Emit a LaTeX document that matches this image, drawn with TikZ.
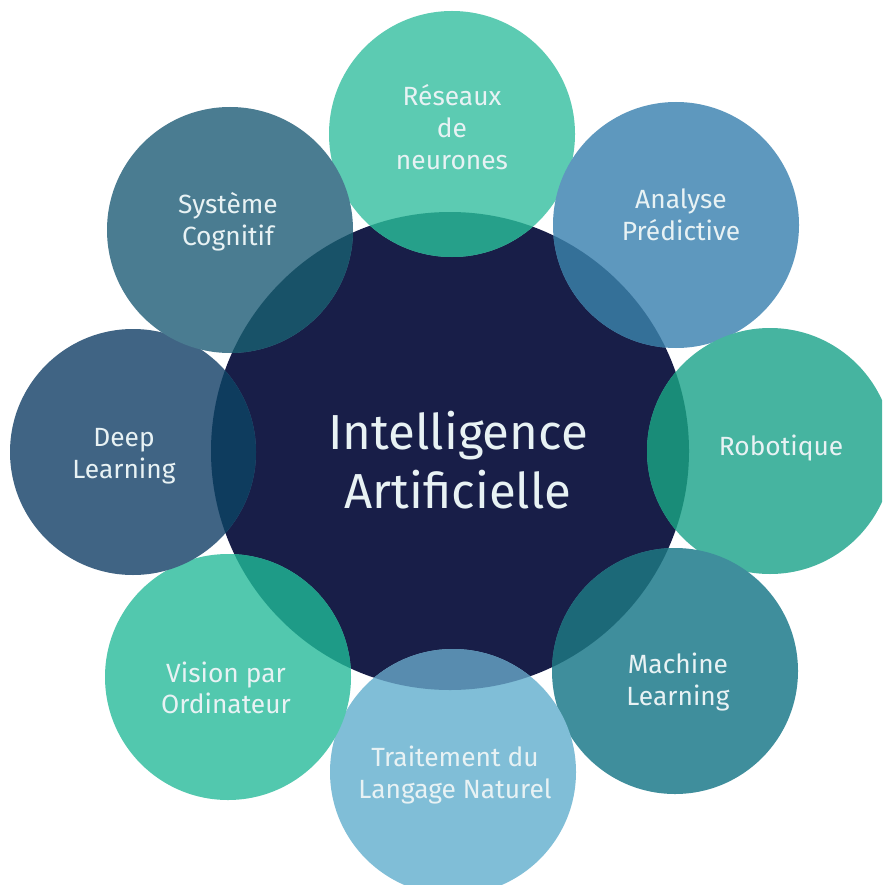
\documentclass[tikz,border=0pt]{standalone}
\usepackage{fontspec}
\setmainfont{Fira Sans}
\definecolor{navy}{RGB}{24,30,72}
\definecolor{labeltext}{RGB}{232,242,244}
\definecolor{cReseaux}{RGB}{92,203,178}
\definecolor{oReseaux}{RGB}{38,160,138}
\definecolor{cAnalyse}{RGB}{94,152,190}
\definecolor{oAnalyse}{RGB}{52,112,152}
\definecolor{cRobot}{RGB}{70,180,160}
\definecolor{oRobot}{RGB}{25,140,120}
\definecolor{cML}{RGB}{63,142,156}
\definecolor{oML}{RGB}{28,105,120}
\definecolor{cTraite}{RGB}{128,190,215}
\definecolor{oTraite}{RGB}{88,140,175}
\definecolor{cVision}{RGB}{82,200,174}
\definecolor{oVision}{RGB}{30,155,135}
\definecolor{cDeep}{RGB}{64,100,132}
\definecolor{oDeep}{RGB}{14,60,94}
\definecolor{cSyst}{RGB}{74,124,145}
\definecolor{oSyst}{RGB}{24,82,104}
\begin{document}
\begin{tikzpicture}[x=0.02cm,y=-0.02cm,
  lbl/.style={text=labeltext, align=center, inner sep=0pt,
    font=\fontsize{15}{18}\selectfont},
  mainlbl/.style={text=labeltext, align=center, inner sep=0pt,
    font=\fontsize{28}{34}\selectfont}]
\useasboundingbox (0,0) rectangle (882,885);
\clip (0,0) rectangle (882,885);
\fill[white] (0,0) rectangle (882,885);
\fill[navy] (450,451) circle[radius=239];
\foreach \cx/\cy/\cc/\oc in {452/134/cReseaux/oReseaux, 676/225/cAnalyse/oAnalyse,
  770/451/cRobot/oRobot, 675/671/cML/oML, 453/772/cTraite/oTraite,
  228/677/cVision/oVision, 133/452/cDeep/oDeep, 230/230/cSyst/oSyst}{
  \fill[\cc] (\cx,\cy) circle[radius=123];
  \begin{scope}
    \clip (450,451) circle[radius=239];
    \fill[\oc] (\cx,\cy) circle[radius=123];
  \end{scope}
}
\node[mainlbl] (ia) at (458,460) {Intelligence\\Artificielle};
\node[lbl] (reseaux) at (452,127) {Réseaux\\de\\neurones};
\node[lbl] (analyse) at (681,215) {Analyse\\Prédictive};
\node[lbl] (robot) at (781,448) {Robotique};
\node[lbl] (ml) at (678,682) {Machine\\Learning};
\node[lbl] (tal) at (455,775) {Traitement du\\Langage Naturel};
\node[lbl] (vision) at (226,688) {Vision par\\Ordinateur};
\node[lbl] (deep) at (124,456) {Deep\\Learning};
\node[lbl] (syst) at (228,222) {Système\\Cognitif};
\end{tikzpicture}
\end{document}
